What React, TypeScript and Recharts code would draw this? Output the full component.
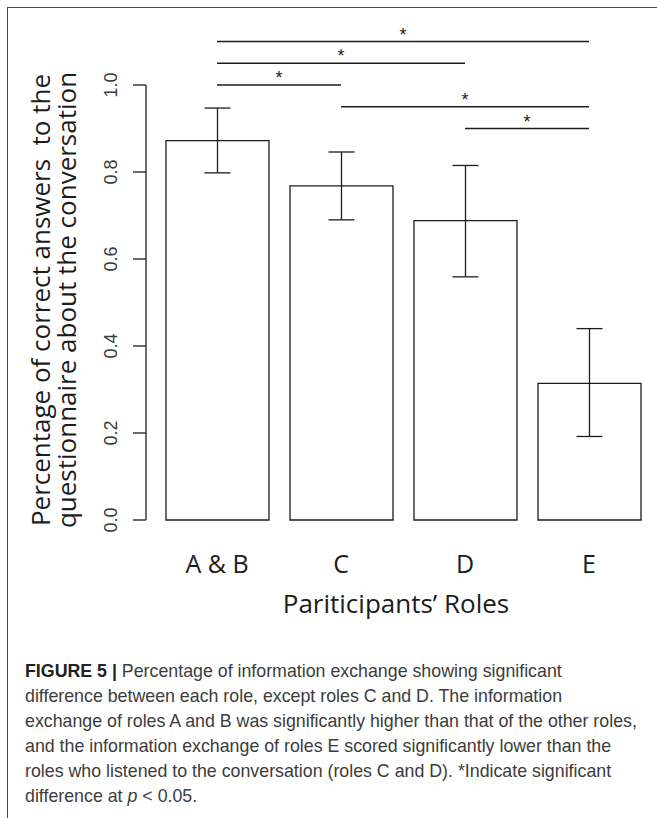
import { BarChart, Bar, XAxis, YAxis, ErrorBar, ReferenceLine } from "recharts";

// values
const roles = ["A & B", "C", "D", "E"];
const meanScore = [0.872, 0.768, 0.688, 0.314];
const lowerBound = [0.798, 0.69, 0.559, 0.192];
const upperBound = [0.947, 0.846, 0.815, 0.44];
const yTicks = [0, 0.2, 0.4, 0.6, 0.8, 1.0];

// significance brackets: [from role, to role, height]
const sigFrom = ["A & B", "A & B", "A & B", "C", "D"];
const sigTo = ["E", "D", "C", "E", "E"];
const sigHeight = [1.1, 1.05, 1.0, 0.95, 0.9];

const captionLines = [
  "Percentage of information exchange showing significant",
  "difference between each role, except roles C and D. The information",
  "exchange of roles A and B was significantly higher than that of the other roles,",
  "and the information exchange of roles E scored significantly lower than the",
  "roles who listened to the conversation (roles C and D). *Indicate significant",
];

const data = roles.map((role, i) => ({
  role,
  score: meanScore[i],
  err: [meanScore[i] - lowerBound[i], upperBound[i] - meanScore[i]],
}));

const INK = "#1c1c1c";
const TITLE_FONT = "'Open Sans', 'Noto Sans', sans-serif";

function RotatedTick({ x, y, payload }: { x?: number; y?: number; payload?: { value: number } }) {
  if (x == null || y == null || !payload) return null;
  return (
    <text
      x={x}
      y={y}
      dy="0.35em"
      transform={`rotate(-90, ${x}, ${y})`}
      textAnchor="middle"
      fontSize={18}
      fontFamily="'Liberation Sans', Arial, sans-serif"
      fill="#3a3a3a"
    >
      {payload.value.toFixed(1)}
    </text>
  );
}

function YTitle() {
  const cy = 300;
  return (
    <g fontFamily={TITLE_FONT} fontSize={26} fill={INK}>
      <text x={50} y={cy} transform={`rotate(-90, 50, ${cy})`} textAnchor="middle" style={{ whiteSpace: "pre" }}>
        Percentage of correct answers  to the
      </text>
      <text x={76} y={cy} transform={`rotate(-90, 76, ${cy})`} textAnchor="middle">
        questionnaire about the conversation
      </text>
    </g>
  );
}

function XTitle() {
  return (
    <text x={396} y={613} textAnchor="middle" fontFamily={TITLE_FONT} fontSize={26} fill={INK}>
      Pariticipants’ Roles
    </text>
  );
}

function Star({ viewBox }: { viewBox?: { x: number; y: number; width: number } }) {
  if (!viewBox) return null;
  return (
    <text
      x={viewBox.x + viewBox.width / 2}
      y={viewBox.y - 1}
      textAnchor="middle"
      fontSize={18}
      fontFamily="'Liberation Sans', Arial, sans-serif"
      fill={INK}
    >
      *
    </text>
  );
}

export default function App() {
  return (
    <div style={{ position: "fixed", left: 0, top: 0, width: 657, height: 818, overflow: "hidden", background: "#fff" }}>
      <div
        style={{
          position: "absolute",
          left: 7,
          top: 7,
          width: 700,
          height: 900,
          borderLeft: "1.5px solid #4a4a4a",
          borderTop: "1.5px solid #4a4a4a",
        }}
      />
      <div style={{ position: "absolute", left: 0, top: 0 }}>
        <BarChart width={657} height={630} data={data} margin={{ top: 85, right: 6, bottom: 0, left: 0 }}>
          <XAxis
            dataKey="role"
            axisLine={false}
            tickLine={false}
            tickMargin={29}
            height={110}
            padding={{ left: 9, right: 0 }}
            tick={{ fontSize: 25, fontFamily: TITLE_FONT, fill: INK }}
            label={<XTitle />}
          />
          <YAxis
            type="number"
            domain={[0, 1]}
            ticks={yTicks}
            width={146}
            tickSize={13}
            tickMargin={22}
            axisLine={{ stroke: INK, strokeWidth: 1.3 }}
            tickLine={{ stroke: INK, strokeWidth: 1.3 }}
            tick={<RotatedTick />}
            label={<YTitle />}
          />
          <Bar dataKey="score" barSize={103} fill="#fff" stroke={INK} strokeWidth={1.3} isAnimationActive={false}>
            <ErrorBar dataKey="err" width={13} stroke={INK} strokeWidth={1.3} direction="y" />
          </Bar>
          {sigHeight.map((h, i) => (
            <ReferenceLine
              key={i}
              segment={[
                { x: sigFrom[i], y: h },
                { x: sigTo[i], y: h },
              ]}
              stroke={INK}
              strokeWidth={1.3}
              ifOverflow="visible"
              label={<Star />}
            />
          ))}
        </BarChart>
      </div>
      <div
        style={{
          position: "absolute",
          left: 25,
          top: 659,
          fontFamily: "'Liberation Sans', Arial, sans-serif",
          fontSize: 17.8,
          lineHeight: "25px",
          color: "#3c3c3c",
          whiteSpace: "nowrap",
        }}
      >
        <div>
          <span style={{ fontWeight: 700, color: "#222" }}>FIGURE 5 | </span>
          {captionLines[0]}
        </div>
        {captionLines.slice(1).map((line) => (
          <div key={line}>{line}</div>
        ))}
        <div>
          difference at <i>p</i> &lt; 0.05.
        </div>
      </div>
    </div>
  );
}
